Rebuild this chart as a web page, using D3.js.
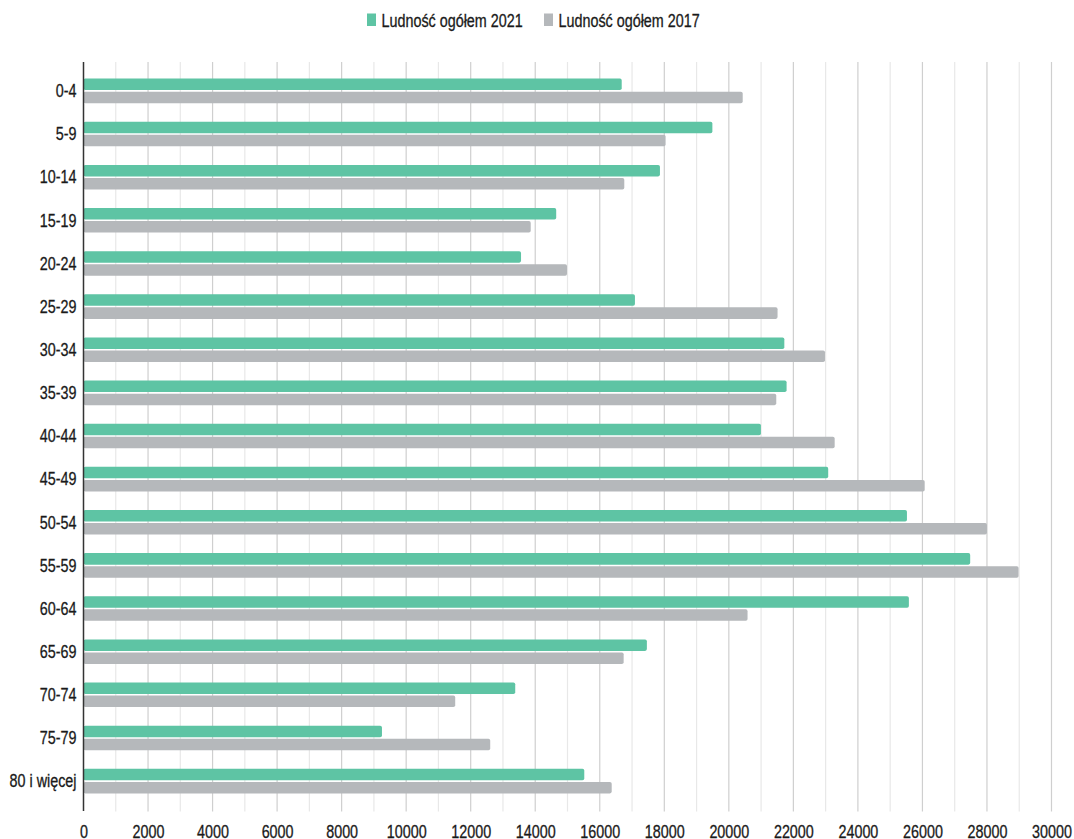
<!DOCTYPE html>
<html lang="pl">
<head>
<meta charset="utf-8">
<script src="https://cdn.jsdelivr.net/npm/d3@7"></script>
<style>
  html, body { margin: 0; padding: 0; background: #ffffff; }
  svg { display: block; }
  text { font-family: "Liberation Sans", Arial, sans-serif; fill: #1a1a1a; stroke: #1a1a1a; stroke-width: 0.3px; }
</style>
</head>
<body>
<svg id="chart" width="1074" height="839"></svg>
<script>
// Age groups (top to bottom)
const categories = ["0-4", "5-9", "10-14", "15-19", "20-24", "25-29", "30-34", "35-39",
  "40-44", "45-49", "50-54", "55-59", "60-64", "65-69", "70-74", "75-79", "80 i więcej"];

// Population totals per age group
const pop2021 = [16680, 19490, 17865, 14650, 13560, 17090, 21720, 21790,
  20995, 23080, 25520, 27480, 25580, 17460, 13380, 9250, 15520];
const pop2017 = [20430, 18040, 16760, 13860, 14985, 21510, 22980, 21470,
  23280, 26070, 28000, 28980, 20580, 16740, 11520, 12605, 16370];

const seriesNames = ["Ludność ogółem 2021", "Ludność ogółem 2017"];
const seriesColors = ["#5ec4a4", "#b5b8bb"];
const xTicks = d3.range(0, 30001, 2000);
const xGrid = d3.range(0, 30001, 1000);

const svg = d3.select("#chart");
const fontSize = 17.5;
const squeeze = 0.82;            // narrow type width

const plotLeft = 83.5, plotRight = 1051.5, plotTop = 62, plotBottom = 810;

const x = d3.scaleLinear().domain([0, 30000]).range([plotLeft, plotRight]);
const y = d3.scaleBand().domain(categories).range([plotTop, plotBottom]).paddingOuter(0.17).paddingInner(0);
const ySub = d3.scaleBand().domain(seriesNames).range([-12.3, 12.3]).paddingInner(0.12);

// Vertical gridlines: darker at labelled ticks, lighter between
svg.append("g").selectAll("line").data(xGrid.filter(v => v > 0)).join("line")
  .attr("x1", d => x(d)).attr("x2", d => x(d))
  .attr("y1", plotTop).attr("y2", plotBottom + 1.5)
  .attr("stroke", d => d % 2000 === 0 ? "#cfcfcf" : "#e8e8e8")
  .attr("stroke-width", 1.2);

// Bars
const rows = categories.map((c, i) => ({ c, values: [pop2021[i], pop2017[i]] }));
const groups = svg.append("g").selectAll("g").data(rows).join("g")
  .attr("transform", d => `translate(0,${y(d.c) + y.bandwidth() / 2})`);
groups.selectAll("rect").data(d => d.values.map((v, j) => ({ v, s: seriesNames[j], j })))
  .join("rect")
  .attr("x", x(0))
  .attr("y", d => ySub(d.s))
  .attr("width", d => x(d.v) - x(0))
  .attr("height", ySub.bandwidth())
  .attr("rx", 1.8)
  .attr("fill", d => seriesColors[d.j]);

// Value axis
const xAxis = svg.append("g")
  .attr("transform", `translate(0,${plotBottom})`)
  .call(d3.axisBottom(x).tickValues(xTicks).tickFormat(d3.format("d")).tickSize(0).tickPadding(0));
xAxis.select(".domain").remove();
xAxis.selectAll("text")
  .attr("y", 0).attr("dy", 0)
  .attr("transform", `translate(0,27.8) scale(${squeeze},1)`)
  .style("font-size", fontSize + "px")
  .style("font-family", "'Liberation Sans', Arial, sans-serif")
  .attr("fill", "#1a1a1a");

// Category axis
const yAxis = svg.append("g")
  .attr("transform", `translate(${plotLeft},0)`)
  .call(d3.axisLeft(y).tickSize(0).tickPadding(0));
yAxis.select(".domain").remove();
yAxis.selectAll("text")
  .attr("x", 0).attr("dy", 0)
  .attr("transform", `translate(-7,6.3) scale(${squeeze},1)`)
  .style("font-size", fontSize + "px")
  .style("font-family", "'Liberation Sans', Arial, sans-serif")
  .attr("fill", "#1a1a1a");

svg.append("line")
  .attr("x1", plotLeft).attr("x2", plotLeft).attr("y1", plotTop).attr("y2", plotBottom + 1)
  .attr("stroke", "#333").attr("stroke-width", 1.5);

// Legend
const legendItems = [{ name: seriesNames[0], color: seriesColors[0], x: 367 },
                     { name: seriesNames[1], color: seriesColors[1], x: 544 }];
const legend = svg.append("g").selectAll("g").data(legendItems).join("g")
  .attr("transform", d => `translate(${d.x},0)`);
legend.append("rect")
  .attr("x", 0).attr("y", 13.5).attr("width", 9).attr("height", 12.5)
  .attr("fill", d => d.color);
legend.append("text")
  .attr("transform", `translate(14.5,26.5) scale(${squeeze},1)`)
  .style("font-size", fontSize + "px")
  .text(d => d.name);
</script>
</body>
</html>
